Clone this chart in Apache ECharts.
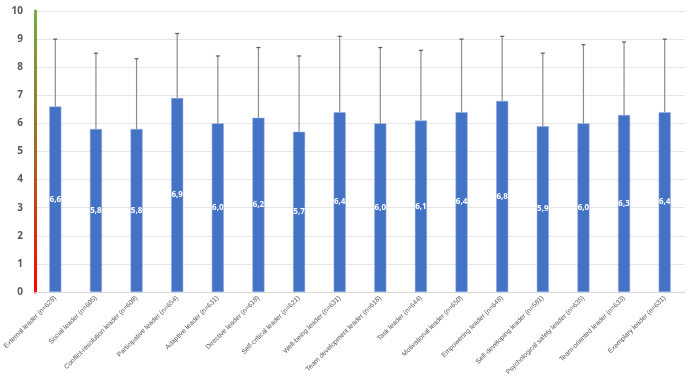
<!DOCTYPE html>
<html><head><meta charset="utf-8">
<script src="https://cdn.jsdelivr.net/npm/echarts@6/dist/echarts.min.js"></script>
<style>html,body{margin:0;padding:0;background:#fff}#c{width:693px;height:381px}</style>
</head><body><div id="c"></div>
<script>
const categories = ["External leader (n=628)","Social leader (n=605)","Conflict-resolution leader (n=609)","Participative leader (n=654)","Adaptive leader (n=631)","Directive leader (n=618)","Self-critical leader (n=621)","Well-being leader (n=631)","Team development leader (n=618)","Task leader (n=644)","Motivational leader (n=650)","Empowering leader (n=648)","Self-developing leader (n=581)","Psychological safety leader (n=635)","Team-oriented leader (n=633)","Exemplary leader (n=631)"];
const means = [6.6,5.8,5.8,6.9,6.0,6.2,5.7,6.4,6.0,6.1,6.4,6.8,5.9,6.0,6.3,6.4];
const upper = [9.0,8.5,8.3,9.2,8.4,8.7,8.4,9.1,8.7,8.6,9.0,9.1,8.5,8.8,8.9,9.0];
const yTicks = [0,1,2,3,4,5,6,7,8,9,10];

const chart = echarts.init(document.getElementById('c'));
chart.setOption({
  animation:false,
  grid:{left:35,right:8,top:11,bottom:89},
  xAxis:{type:'category',data:categories,
    axisLine:{lineStyle:{color:'#d9d9d9'}},axisTick:{show:false},
    axisLabel:{rotate:45,interval:0,fontSize:6.8,color:'#595959',fontFamily:'Liberation Sans',margin:5}},
  yAxis:{type:'value',min:yTicks[0],max:yTicks[yTicks.length-1],interval:1,
    axisLine:{show:true,lineStyle:{width:3,color:new echarts.graphic.LinearGradient(0,0,0,1,[{offset:0,color:'#70ad47'},{offset:0.5,color:'#a5662c'},{offset:1,color:'#ff0000'}])}},
    splitLine:{lineStyle:{color:'#e6e6e6'}},
    axisLabel:{fontSize:10,color:'#595959',fontWeight:'bold',fontFamily:'Open Sans',margin:12}},
  series:[{
    type:'bar',data:means,barWidth:12,
    itemStyle:{color:'#4472c4',borderColor:'#8faadc',borderWidth:0.5},
    label:{show:true,position:'inside',color:'#fff',fontSize:8,fontWeight:'bold',fontFamily:'Open Sans',
      formatter:p=>p.value.toFixed(1).replace('.',',')}
  },{
    type:'custom',z:1,
    data:means.map((m,i)=>[i,m,upper[i]]),
    renderItem:function(params,api){
      const lo=api.coord([api.value(0),api.value(1)]);
      const hi=api.coord([api.value(0),api.value(2)]);
      return {type:'group',children:[
        {type:'line',shape:{x1:lo[0],y1:lo[1],x2:hi[0],y2:hi[1]},style:{stroke:'#8c8c8c',lineWidth:1.2}},
        {type:'line',shape:{x1:hi[0]-2,y1:hi[1],x2:hi[0]+2,y2:hi[1]},style:{stroke:'#595959',lineWidth:1.2}}
      ]};
    }
  }]
});
</script></body></html>
